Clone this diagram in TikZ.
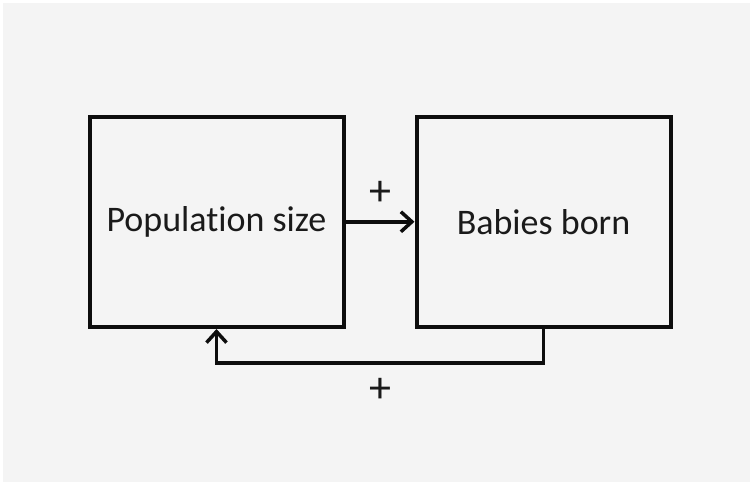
\documentclass[tikz,border=0pt]{standalone}
\usepackage{xcolor}
\usepackage{fontspec}
\setmainfont[Ligatures=NoCommon]{Carlito}
\usetikzlibrary{arrows.meta}
\definecolor{canvas}{HTML}{F4F4F4}
\definecolor{ink}{HTML}{0D0D0D}
\definecolor{body}{HTML}{1A1A1A}

\begin{document}
\begin{tikzpicture}[x=1pt, y=-1pt,
  box/.style={draw=ink, line width=4pt, minimum width=254pt, minimum height=210.5pt,
    inner sep=0pt, text=body, font=\fontsize{36}{43}\selectfont},
  link/.style={draw=ink, line width=3.5pt, -{Straight Barb[length=11pt, width=20pt]}},
  sign/.style={text=body, font=\fontsize{44}{50}\selectfont}]

  % page and backdrop
  \fill[white] (0,0) rectangle (753,485);
  \fill[canvas] (3,3) rectangle (750,482);

  \node[box] (pop) at (216.5,221.75) {Population size};
  \node[box] (babies) at (543.5,221.75) {Babies born};

  % births go up with the population
  \draw[link] (pop.east) -- (babies.west)
    node[midway, sign, yshift=28pt] (plusA) {+};

  % and feed back into it
  \draw[link] (babies.south) -- ++(0,34) coordinate (turn) -| (pop.south);
  \path (turn) -- (turn -| pop.south)
    node[midway, sign, yshift=-27pt] (plusB) {+};
\end{tikzpicture}
\end{document}
